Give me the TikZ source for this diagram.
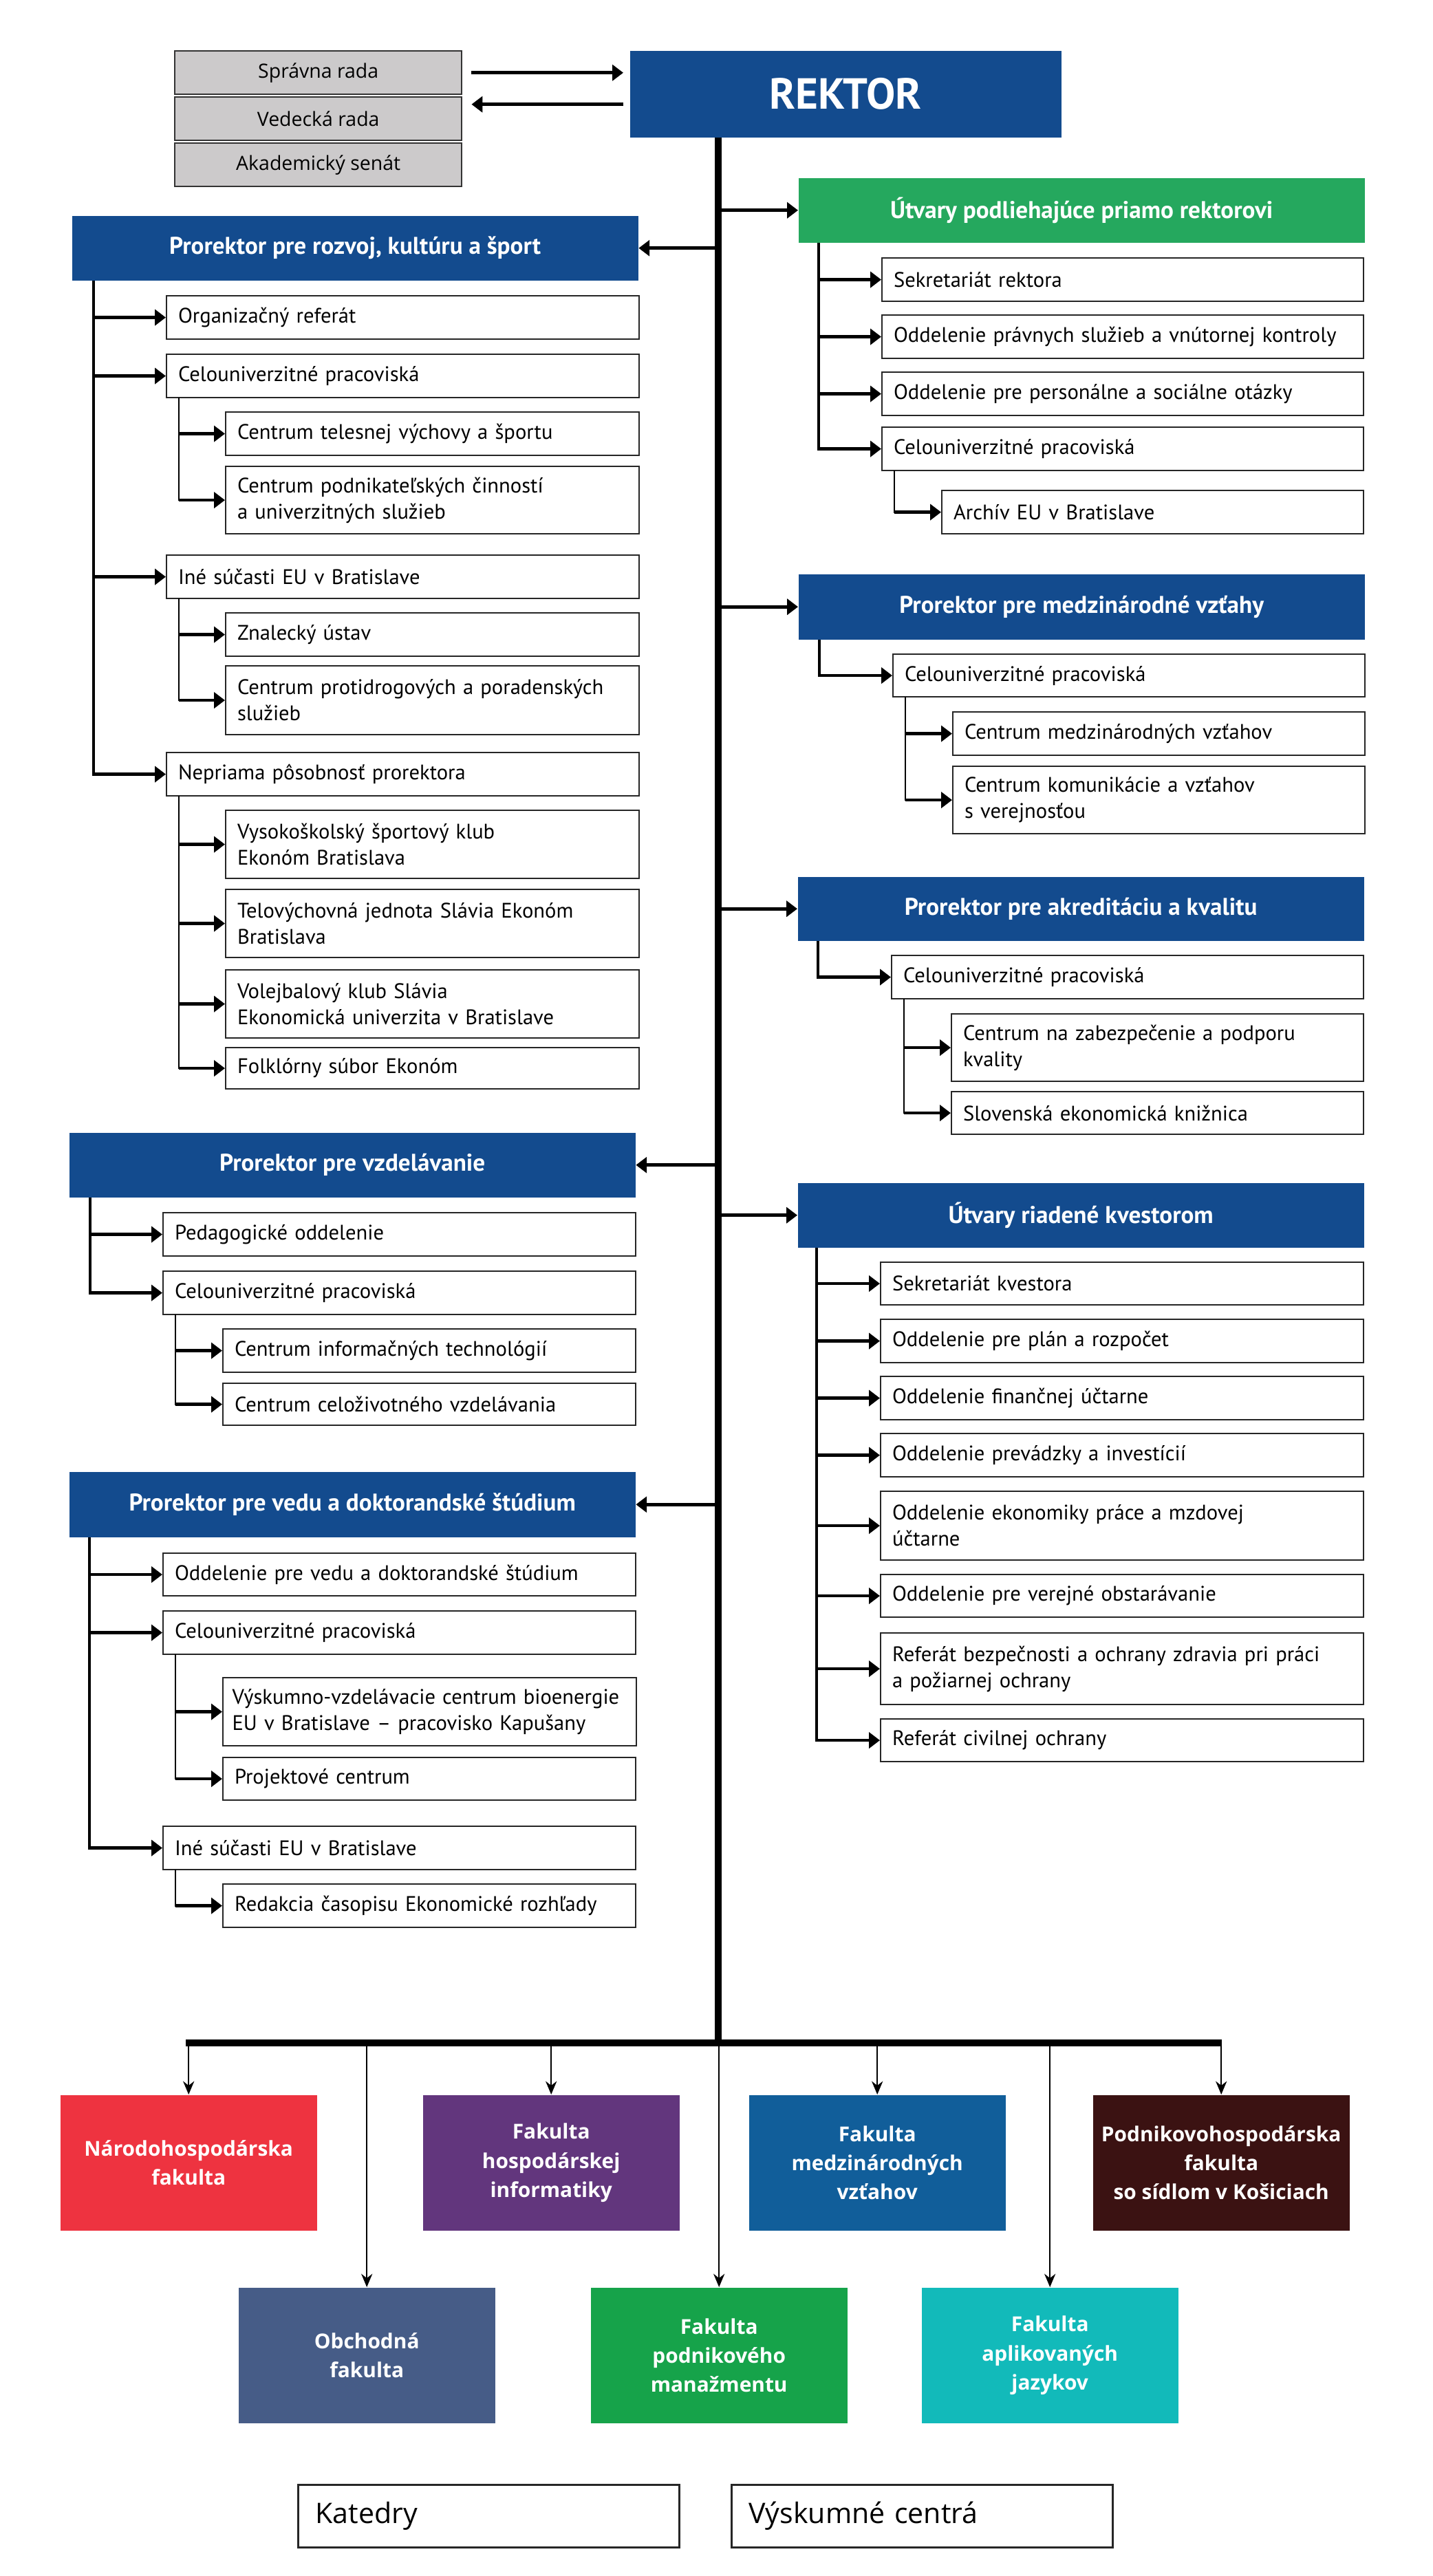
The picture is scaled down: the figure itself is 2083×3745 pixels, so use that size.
\documentclass[tikz,border=0pt]{standalone}
\usepackage{fontspec}
\setmainfont{PT Sans}
\newfontfamily\opensans{Open Sans}
\usetikzlibrary{arrows.meta}
\definecolor{ubblue}{HTML}{134B8E}
\definecolor{ubgreen}{HTML}{25A85E}
\definecolor{boardgray}{HTML}{CCCACB}
\definecolor{nhfred}{HTML}{EE3340}
\definecolor{fhipurple}{HTML}{62367D}
\definecolor{fmvblue}{HTML}{115E9A}
\definecolor{phfbrown}{HTML}{3B1212}
\definecolor{ofslate}{HTML}{465C87}
\definecolor{fpmgreen}{HTML}{16A34A}
\definecolor{fajteal}{HTML}{12BABA}
\newcommand{\boxfont}{\fontsize{8.7}{10.8}\selectfont}
\newcommand{\headfont}{\bfseries\fontsize{10}{12}\selectfont}
\newcommand{\facfont}{\opensans\bfseries\fontsize{8.5}{12}\selectfont}

\begin{document}
\begin{tikzpicture}[x=0.1mm,y=-0.1mm,>={Triangle[length=4.5pt,width=6.5pt]},
    head node/.style={fill=#1,text=white,anchor=north west,minimum width=82.3mm,minimum height=9.4mm,inner sep=0pt,font=\headfont},
    unit node/.style={draw=black!85,line width=0.6pt,anchor=north west,align=left,text width=#1,inner xsep=1.7mm,inner ysep=0pt,minimum height=6.3mm,font=\boxfont},
    board node/.style={draw=black!80,line width=0.7pt,fill=boardgray,anchor=north west,minimum width=41.7mm,minimum height=6.3mm,inner sep=0pt,font=\opensans\fontsize{8.1}{9}\selectfont},
    fac node/.style={fill=#1,text=white,anchor=north west,minimum width=37.3mm,minimum height=19.7mm,align=center,inner sep=0pt,font=\facfont},
    bottom node/.style={draw=black!85,line width=0.8pt,anchor=north west,align=left,text width=50.4mm,inner xsep=2.5mm,minimum height=9.1mm,font=\opensans\fontsize{11.7}{14}\selectfont},
    trunk/.style={line width=2.6pt},
    main arrow/.style={->,line width=1.3pt},
    branch/.style={->,line width=1.2pt},
    twig/.style={line width=0.6pt,line cap=rect},
    fac arrow/.style={-{Stealth[length=5.5pt,width=4.6pt]},line width=0.7pt}]

\useasboundingbox (0,0) rectangle (2083,3745);

\node[board node] (spr) at (253,73)  {Správna rada};
\node[board node] (ved) at (253,140) {Vedecká rada};
\node[board node] (aka) at (253,207) {Akademický senát};
\node[head node=ubblue,minimum width=62.7mm,minimum height=12.6mm,font=\bfseries\fontsize{18}{20}\selectfont] (rektor) at (915,73) {REKTOR};
\coordinate (r2) at ([yshift=-1.5mm]rektor.west);

% prorektor pre rozvoj
\node[head node=ubblue] (rozvoj) at (104,313) {Prorektor pre rozvoj, kultúru a šport};
\node[unit node=65.3mm] (rorg) at (241,429) {Organizačný referát};
\node[unit node=65.3mm] (rcel) at (241,514) {Celouniverzitné pracoviská};
\node[unit node=56.7mm] (rctv) at (327,598) {Centrum telesnej výchovy a športu};
\node[unit node=56.7mm,minimum height=9.8mm] (rcpc) at (327,677) {Centrum podnikateľských činností\\a univerzitných služieb};
\node[unit node=65.3mm] (rine) at (241,806) {Iné súčasti EU v Bratislave};
\node[unit node=56.7mm] (rzna) at (327,890) {Znalecký ústav};
\node[unit node=56.7mm,minimum height=10mm] (rcpp) at (327,967) {Centrum protidrogových a poradenských\\služieb};
\node[unit node=65.3mm] (rnep) at (241,1093) {Nepriama pôsobnosť prorektora};
\node[unit node=56.7mm,minimum height=9.9mm] (rvsk) at (327,1177) {Vysokoškolský športový klub\\Ekonóm Bratislava};
\node[unit node=56.7mm,minimum height=9.9mm] (rtjs) at (327,1292) {Telovýchovná jednota Slávia Ekonóm\\Bratislava};
\node[unit node=56.7mm,minimum height=9.9mm] (rvks) at (327,1409) {Volejbalový klub Slávia\\Ekonomická univerzita v Bratislave};
\node[unit node=56.7mm,minimum height=6mm] (rfse) at (327,1522) {Folklórny súbor Ekonóm};

% prorektor pre vzdelavanie
\node[head node=ubblue] (vzdel) at (100,1646) {Prorektor pre vzdelávanie};
\node[unit node=65.3mm] (vped) at (236,1762) {Pedagogické oddelenie};
\node[unit node=65.3mm] (vcel) at (236,1847) {Celouniverzitné pracoviská};
\node[unit node=56.6mm] (vcit) at (323,1931) {Centrum informačných technológií};
\node[unit node=56.6mm,minimum height=6.1mm] (vccv) at (323,2010) {Centrum celoživotného vzdelávania};

% prorektor pre vedu
\node[head node=ubblue,minimum height=9.5mm] (veda) at (100,2139) {Prorektor pre vedu a doktorandské štúdium};
\node[unit node=65.3mm,minimum height=6.2mm] (dovd) at (236,2257) {Oddelenie pre vedu a doktorandské štúdium};
\node[unit node=65.3mm] (dcel) at (236,2341) {Celouniverzitné pracoviská};
\node[unit node=57.4mm,inner xsep=1.35mm,minimum height=9.9mm] (dvvc) at (323,2438) {Výskumno-vzdelávacie centrum bioenergie\\EU v Bratislave – pracovisko Kapušany};
\node[unit node=56.6mm,minimum height=6.2mm] (dpc) at (323,2554) {Projektové centrum};
\node[unit node=65.3mm] (dine) at (236,2654) {Iné súčasti EU v Bratislave};
\node[unit node=56.6mm] (dred) at (323,2738) {Redakcia časopisu Ekonomické rozhľady};

% utvary rektora
\node[head node=ubgreen] (utvr) at (1160,258) {Útvary podliehajúce priamo rektorovi};
\node[unit node=66.6mm] (usek) at (1281,374) {Sekretariát rektora};
\node[unit node=66.6mm] (uopr) at (1281,457) {Oddelenie právnych služieb a vnútornej kontroly};
\node[unit node=66.6mm] (uops) at (1281,540) {Oddelenie pre personálne a sociálne otázky};
\node[unit node=66.6mm] (ucel) at (1281,620) {Celouniverzitné pracoviská};
\node[unit node=57.9mm] (uarc) at (1368,712) {Archív EU v Bratislave};

% prorektor pre medzinarodne vztahy
\node[head node=ubblue,minimum height=9.5mm] (medz) at (1160,834) {Prorektor pre medzinárodné vzťahy};
\node[unit node=65.2mm,minimum height=6.2mm] (mcel) at (1297,950) {Celouniverzitné pracoviská};
\node[unit node=56.5mm] (mcmv) at (1384,1034) {Centrum medzinárodných vzťahov};
\node[unit node=56.5mm,minimum height=9.8mm] (mckv) at (1384,1113) {Centrum komunikácie a vzťahov\\s verejnosťou};

% prorektor pre akreditaciu
\node[head node=ubblue,minimum height=9.3mm] (akred) at (1159,1274) {Prorektor pre akreditáciu a kvalitu};
\node[unit node=65.2mm] (acel) at (1295,1388) {Celouniverzitné pracoviská};
\node[unit node=56.5mm,minimum height=9.8mm] (aczp) at (1382,1473) {Centrum na zabezpečenie a podporu\\kvality};
\node[unit node=56.5mm,minimum height=6.2mm] (asek) at (1382,1586) {Slovenská ekonomická knižnica};

% kvestor
\node[head node=ubblue] (kvest) at (1159,1719) {Útvary riadené kvestorom};
\node[unit node=66.8mm,minimum height=6.2mm] (k1) at (1279,1834) {Sekretariát kvestora};
\node[unit node=66.8mm] (k2) at (1279,1917) {Oddelenie pre plán a rozpočet};
\node[unit node=66.8mm] (k3) at (1279,2000) {Oddelenie finančnej účtarne};
\node[unit node=66.8mm] (k4) at (1279,2083) {Oddelenie prevádzky a investícií};
\node[unit node=66.8mm,minimum height=10mm] (k5) at (1279,2167) {Oddelenie ekonomiky práce a mzdovej\\účtarne};
\node[unit node=66.8mm,minimum height=6.2mm] (k6) at (1279,2288) {Oddelenie pre verejné obstarávanie};
\node[unit node=66.8mm,minimum height=10.4mm] (k7) at (1279,2373) {Referát bezpečnosti a ochrany zdravia pri práci\\a požiarnej ochrany};
\node[unit node=66.8mm,minimum height=6.2mm] (k8) at (1279,2498) {Referát civilnej ochrany};

% fakulty
\node[fac node=nhfred] (nhf) at (87,3045) {Národohospodárska\\fakulta};
\node[fac node=fhipurple] (fhi) at (614,3045) {Fakulta\\hospodárskej\\informatiky};
\node[fac node=fmvblue] (fmv) at (1088,3045) {Fakulta\\medzinárodných\\vzťahov};
\node[fac node=phfbrown] (phf) at (1588,3045) {Podnikovohospodárska\\fakulta\\so sídlom v Košiciach};
\node[fac node=ofslate] (of) at (346,3325) {Obchodná\\fakulta};
\node[fac node=fpmgreen] (fpm) at (858,3325) {Fakulta\\podnikového\\manažmentu};
\node[fac node=fajteal] (faj) at (1339,3325) {Fakulta\\aplikovaných\\jazykov};

\node[bottom node] (kat) at (432,3611) {Katedry};
\node[bottom node] (vyc) at (1062,3611) {Výskumné centrá};

% spojnice
\coordinate (tr) at (1044,0);
\coordinate (barL) at (270,2970);
\coordinate (barR) at (1776,2970);
\draw[main arrow,shorten <=1.3mm,shorten >=0.9mm] (spr.east) -- (rektor.west |- spr.east);
\draw[main arrow,shorten <=0.9mm,shorten >=1.3mm] (r2) -- (ved.east |- r2);
\draw[trunk] (tr |- rektor.south) -- (tr |- barL);
\draw[trunk] (barL) -- (barR);
\foreach \n in {rozvoj,vzdel,veda} \draw[main arrow] (tr |- \n.east) -- (\n.east);
\foreach \n in {utvr,medz,akred,kvest} \draw[main arrow] (tr |- \n.west) -- (\n.west);

\coordinate (rl) at (136,0); \coordinate (rs) at (260,0);
\draw[branch] (rl |- rozvoj.south) |- (rnep.west);
\foreach \n in {rorg,rcel,rine} \draw[branch] (rl |- \n.west) -- (\n.west);
\draw[twig] (rs |- rcel.south) -- (rs |- rcpc.west);
\draw[twig] (rs |- rine.south) -- (rs |- rcpp.west);
\draw[twig] (rs |- rnep.south) -- (rs |- rfse.west);
\foreach \n in {rctv,rcpc,rzna,rcpp,rvsk,rtjs,rvks,rfse} \draw[branch] (rs |- \n.west) -- (\n.west);

\coordinate (vl) at (131,0); \coordinate (vs) at (255,0);
\draw[branch] (vl |- vzdel.south) |- (vcel.west);
\draw[branch] (vl |- vped.west) -- (vped.west);
\draw[twig] (vs |- vcel.south) -- (vs |- vccv.west);
\foreach \n in {vcit,vccv} \draw[branch] (vs |- \n.west) -- (\n.west);

\coordinate (dl) at (130,0); \coordinate (ds) at (255,0);
\draw[branch] (dl |- veda.south) |- (dine.west);
\foreach \n in {dovd,dcel} \draw[branch] (dl |- \n.west) -- (\n.west);
\draw[twig] (ds |- dcel.south) -- (ds |- dpc.west);
\draw[twig] (ds |- dine.south) -- (ds |- dred.west);
\foreach \n in {dvvc,dpc,dred} \draw[branch] (ds |- \n.west) -- (\n.west);

\coordinate (ul) at (1190,0); \coordinate (us) at (1300,0);
\draw[branch] (ul |- utvr.south) |- (ucel.west);
\foreach \n in {usek,uopr,uops} \draw[branch] (ul |- \n.west) -- (\n.west);
\draw[twig] (us |- ucel.south) -- (us |- uarc.west);
\draw[branch] (us |- uarc.west) -- (uarc.west);

\coordinate (ml) at (1191,0); \coordinate (ms) at (1316,0);
\draw[branch] (ml |- medz.south) |- (mcel.west);
\draw[twig] (ms |- mcel.south) -- (ms |- mckv.west);
\foreach \n in {mcmv,mckv} \draw[branch] (ms |- \n.west) -- (\n.west);

\coordinate (al) at (1189,0); \coordinate (as) at (1314,0);
\draw[branch] (al |- akred.south) |- (acel.west);
\draw[twig] (as |- acel.south) -- (as |- asek.west);
\foreach \n in {aczp,asek} \draw[branch] (as |- \n.west) -- (\n.west);

\coordinate (kl) at (1187,0);
\draw[branch] (kl |- kvest.south) |- (k8.west);
\foreach \n in {k1,k2,k3,k4,k5,k6,k7} \draw[branch] (kl |- \n.west) -- (\n.west);

\foreach \n in {nhf,of,fhi,fpm,fmv,faj,phf} \draw[fac arrow] (\n.north |- barL) -- (\n.north);
\end{tikzpicture}
\end{document}
